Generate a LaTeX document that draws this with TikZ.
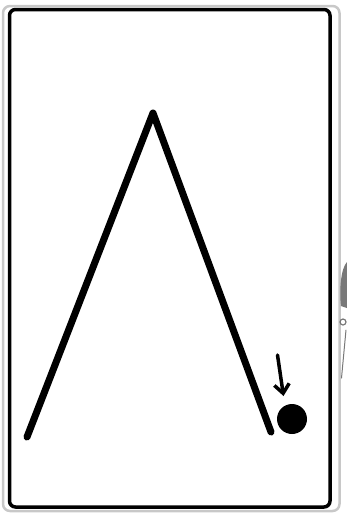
\documentclass[tikz,border=0pt]{standalone}
\usetikzlibrary{arrows.meta}
\definecolor{framegray}{RGB}{200,200,200}
\definecolor{sketchgray}{RGB}{120,120,120}
\begin{document}
\begin{tikzpicture}[x=1pt,y=-1pt,>={Straight Barb[length=9pt,width=15pt]},line cap=round,line join=round]
 \useasboundingbox (0,0) rectangle (347,515);
 % frames
 \draw[framegray,line width=2.5pt,rounded corners=7pt] (3,6) rectangle (339.5,511);
 \draw[black,line width=3.5pt,rounded corners=6pt] (9.5,9.5) rectangle (330,507);
 % the slope
 \coordinate (L) at (27,437);
 \coordinate (A) at (153,113);
 \coordinate (R) at (271,432);
 \draw[line width=7pt] (L)--(A)--(R);
 % ball and arrow
 \node[circle,fill,inner sep=0pt,minimum size=30pt] (ball) at (292,419) {};
 \coordinate (tail) at (277.5,355);
 \coordinate (tip) at (283.5,396);
 \draw[->,line width=3.5pt] (tail)--(tip);
 % cut-off sketch at the edge
 \fill[sketchgray] (347,262) .. controls (341,268) and (339,290) .. (341,306) -- (347,308) -- cycle;
 \draw[sketchgray,line width=1.2pt] (343,322) circle[radius=3];
 \draw[sketchgray,line width=1pt] (346,330) -- (341.5,378);
\end{tikzpicture}
\end{document}
